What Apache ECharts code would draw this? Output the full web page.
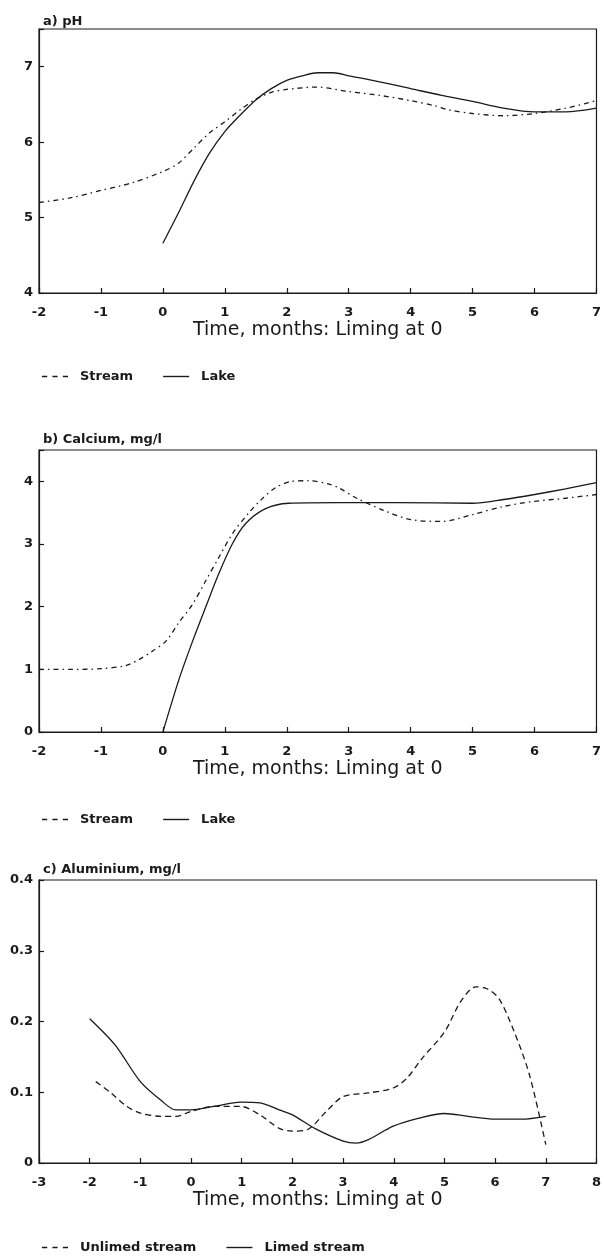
<!DOCTYPE html>
<html>
<head>
<meta charset="utf-8">
<script src="https://cdn.jsdelivr.net/npm/echarts@6/dist/echarts.min.js"></script>
<style>
html,body{margin:0;padding:0;background:#fff;}
#chart{width:604px;height:1256px;}
</style>
</head>
<body>
<div id="chart"></div>
<script>
// ---- Data (x = months, liming at 0) ----
const phStream = [[-2,5.20],[-1.5,5.26],[-1,5.36],[-0.5,5.46],[0,5.61],[0.25,5.72],[0.5,5.92],[0.75,6.12],[1,6.27],[1.25,6.43],[1.5,6.57],[1.75,6.66],[2,6.70],[2.5,6.73],[3,6.67],[3.5,6.62],[4,6.55],[4.4,6.48],[4.6,6.43],[5,6.38],[5.5,6.35],[6,6.38],[6.5,6.45],[7,6.55]];
const phLake = [[0,4.66],[0.25,5.06],[0.5,5.48],[0.75,5.85],[1,6.14],[1.25,6.36],[1.5,6.56],[1.75,6.71],[2,6.82],[2.25,6.88],[2.5,6.92],[2.75,6.92],[3,6.88],[3.5,6.80],[4,6.71],[4.5,6.62],[5,6.54],[5.5,6.45],[6,6.40],[6.5,6.40],[7,6.45]];

const caStream = [[-2,1.0],[-1.5,1.0],[-1,1.01],[-0.6,1.06],[-0.38,1.16],[-0.17,1.29],[0.05,1.45],[0.26,1.75],[0.48,2.04],[0.69,2.41],[0.9,2.78],[1.12,3.16],[1.39,3.50],[1.6,3.72],[1.82,3.90],[2.08,4.0],[2.35,4.01],[2.67,3.96],[2.83,3.90],[3.15,3.72],[3.58,3.53],[4,3.39],[4.5,3.36],[5,3.47],[5.5,3.60],[6,3.68],[6.5,3.73],[7,3.79]];
const caLake = [[0,0],[0.26,0.84],[0.48,1.45],[0.69,1.99],[0.9,2.52],[1.12,3.0],[1.33,3.32],[1.65,3.56],[2.03,3.65],[2.83,3.66],[3.79,3.66],[5,3.65],[5.5,3.71],[6,3.79],[6.5,3.88],[7,3.98]];

const alUnlimed = [[-1.88,0.115],[-1.58,0.099],[-1.27,0.080],[-0.98,0.070],[-0.59,0.066],[-0.29,0.066],[0,0.073],[0.45,0.080],[0.98,0.080],[1.36,0.068],[1.74,0.049],[2,0.045],[2.29,0.047],[2.67,0.073],[3,0.094],[3.5,0.099],[3.99,0.106],[4.26,0.12],[4.56,0.148],[5,0.185],[5.32,0.228],[5.62,0.249],[5.85,0.246],[6.08,0.232],[6.38,0.185],[6.68,0.124],[7,0.026]];
const alLimed = [[-2,0.204],[-1.5,0.167],[-1,0.115],[-0.6,0.089],[-0.3,0.075],[0,0.075],[0.45,0.080],[0.98,0.086],[1.36,0.085],[1.74,0.075],[2,0.068],[2.44,0.049],[3,0.031],[3.26,0.028],[3.5,0.033],[3.99,0.052],[4.48,0.063],[5,0.070],[5.47,0.066],[6,0.062],[6.52,0.062],[7,0.066]];

const panelTitles = ['a) pH', 'b) Calcium, mg/l', 'c) Aluminium, mg/l'];
const xAxisTitle = 'Time, months: Liming at 0';
const legendA = ['Stream', 'Lake'];
const legendC = ['Unlimed stream', 'Limed stream'];

// ---- Layout / style ----
const INK = '#1a1a1a';
const FONT = 'DejaVu Sans';
const DASH_ICON = 'path://M0,0h5v1.4h-5z M10,0h5v1.4h-5z M20,0h5v1.4h-5z';
const SOLID_ICON = 'path://M0,0h26v1.4h-26z';
const grids = [
  {left: 39, width: 561, top: 29, height: 264},
  {left: 39, width: 561, top: 450, height: 282},
  {left: 39, width: 561, top: 880, height: 283}
];
const xRanges = [[-2, 7], [-2, 7], [-3, 8]];
const yRanges = [[4, 7.5, 1], [0, 4.5, 1], [0, 0.4, 0.1]];

const chart = echarts.init(document.getElementById('chart'), null, {renderer: 'canvas'});

function xAxisFor(i) {
  return {
    type: 'value', gridIndex: i, min: xRanges[i][0], max: xRanges[i][1], interval: 1,
    name: xAxisTitle, nameLocation: 'middle', nameGap: 28,
    nameTextStyle: {fontFamily: FONT, fontSize: 19, color: INK},
    axisLine: {show: true, onZero: false, lineStyle: {color: INK, width: 1.2}},
    axisTick: {show: true, inside: true, length: 5, lineStyle: {color: INK, width: 1.2}},
    axisLabel: {show: true, margin: 13, fontFamily: FONT, fontWeight: 'bold', fontSize: 13, color: INK,
      showMinLabel: true, showMaxLabel: true},
    splitLine: {show: false}
  };
}
function yAxisFor(i) {
  const r = yRanges[i];
  return {
    type: 'value', gridIndex: i, min: r[0], max: r[1], interval: r[2],
    axisLine: {show: true, onZero: false, lineStyle: {color: INK, width: 1.2}},
    axisTick: {show: true, inside: true, length: 5, lineStyle: {color: INK, width: 1.2}},
    axisLabel: {show: true, margin: 6, fontFamily: FONT, fontWeight: 'bold', fontSize: 13, color: INK,
      formatter: function (v) {
        const k = Math.round(v / r[2]);
        if (Math.abs(v - k * r[2]) > 1e-9) return '';
        return r[2] < 1 ? String(Math.round(v * 10) / 10) : String(v);
      }},
    splitLine: {show: false}
  };
}
function lineSeries(name, data, i, dash) {
  return {
    name: name, type: 'line', xAxisIndex: i, yAxisIndex: i, data: data,
    symbol: 'none', smooth: 0.3,
    lineStyle: {color: INK, width: 1.3, type: dash},
    itemStyle: {color: INK},
    emphasis: {disabled: true}, animation: false
  };
}
function legendFor(names, top) {
  return {
    data: [{name: names[0], icon: DASH_ICON}, {name: names[1], icon: SOLID_ICON}],
    left: 37, top: top, orient: 'horizontal',
    itemWidth: 26, itemHeight: 10, itemGap: 30,
    itemStyle: {color: INK, borderWidth: 0},
    lineStyle: {width: 0},
    textStyle: {fontFamily: FONT, fontWeight: 'bold', fontSize: 13, color: INK, padding: [0, 0, 0, 7]},
    selectedMode: false
  };
}

const option = {
  backgroundColor: '#ffffff',
  animation: false,
  title: panelTitles.map((t, i) => ({
    text: t, left: 38, top: [10, 428, 858][i],
    textStyle: {fontFamily: FONT, fontWeight: 'bold', fontSize: 13, color: INK}
  })),
  grid: grids.map(g => Object.assign({show: true, borderColor: INK, borderWidth: 1.2, backgroundColor: 'transparent'}, g)),
  xAxis: [0, 1, 2].map(xAxisFor),
  yAxis: [0, 1, 2].map(yAxisFor),
  legend: [legendFor(legendA, 365), legendFor(legendA, 808), legendFor(legendC, 1236)],
  series: [
    lineSeries('Stream', phStream, 0, [5, 4, 1.5, 4]),
    lineSeries('Lake', phLake, 0, 'solid'),
    lineSeries('Stream', caStream, 1, [5, 4, 1.5, 4]),
    lineSeries('Lake', caLake, 1, 'solid'),
    lineSeries('Unlimed stream', alUnlimed, 2, [6, 4]),
    lineSeries('Limed stream', alLimed, 2, 'solid')
  ]
};
chart.setOption(option);
</script>
</body>
</html>
